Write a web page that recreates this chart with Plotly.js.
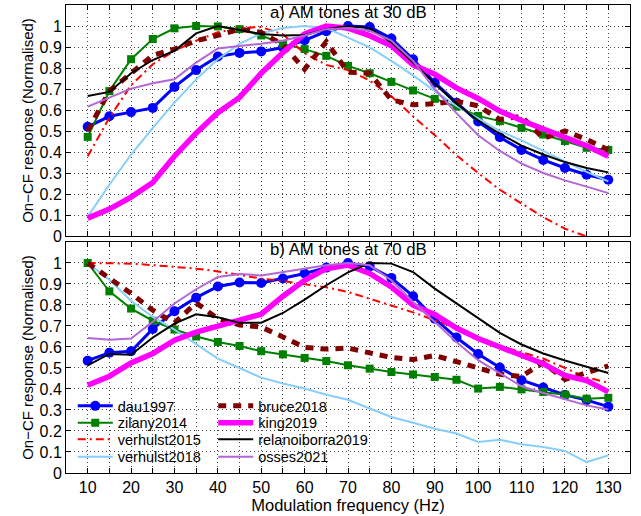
<!DOCTYPE html>
<html><head><meta charset="utf-8">
<script src="https://cdn.plot.ly/plotly-3.0.1.min.js"></script>
<style>html,body{margin:0;padding:0;background:#fff;}#chart{width:641px;height:516px;}</style>
</head><body><div id="chart"></div>
<script>
// Modulation frequencies (Hz)
const freq = [10,15,20,25,30,35,40,45,50,55,60,65,70,75,80,85,90,95,100,105,110,115,120,125,130];
const xTickVals = [10,15,20,25,30,35,40,45,50,55,60,65,70,75,80,85,90,95,100,105,110,115,120,125,130];
const xTickText = ['10','','20','','30','','40','','50','','60','','70','','80','','90','','100','','110','','120','','130'];
const yTickVals = [0,0.1,0.2,0.3,0.4,0.5,0.6,0.7,0.8,0.9,1];
const yTickText = ['0','0.1','0.2','0.3','0.4','0.5','0.6','0.7','0.8','0.9','1'];
const modelNames = ['dau1997','zilany2014','verhulst2015','verhulst2018','bruce2018','king2019','relanoiborra2019','osses2021'];

// a) AM tones at 30 dB
const dau_30 = [0.52,0.57,0.59,0.61,0.71,0.79,0.855,0.872,0.879,0.898,0.932,0.975,1.0,0.995,0.94,0.842,0.73,0.635,0.545,0.47,0.41,0.362,0.324,0.292,0.268];
const zilany_30 = [0.472,0.69,0.842,0.938,0.989,1.0,0.998,0.985,0.955,0.915,0.89,0.858,0.81,0.775,0.734,0.693,0.653,0.616,0.572,0.547,0.515,0.483,0.452,0.42,0.41];
const verhulst2015_30 = [0.38,0.563,0.718,0.818,0.882,0.93,0.97,0.99,0.995,0.96,0.87,0.815,0.79,0.74,0.665,0.57,0.48,0.385,0.30,0.22,0.155,0.09,0.035,-0.005,-0.04];
const verhulst2018_30 = [0.092,0.244,0.388,0.515,0.635,0.746,0.842,0.915,0.965,0.99,1.0,0.99,0.945,0.898,0.834,0.765,0.69,0.62,0.56,0.5,0.455,0.405,0.355,0.305,0.26];
const bruce_30 = [0.5,0.69,0.775,0.86,0.89,0.93,0.955,0.985,0.97,0.91,0.794,0.925,0.78,0.775,0.648,0.625,0.63,0.642,0.62,0.555,0.57,0.465,0.5,0.46,0.41];
const king_30 = [0.085,0.128,0.185,0.255,0.38,0.49,0.587,0.66,0.775,0.874,0.962,1.0,0.99,0.954,0.906,0.815,0.77,0.705,0.655,0.595,0.55,0.51,0.47,0.43,0.38];
const relano_30 = [0.667,0.686,0.775,0.838,0.882,0.965,1.0,0.98,0.962,0.955,0.957,0.985,1.0,0.99,0.922,0.826,0.725,0.63,0.55,0.487,0.43,0.388,0.352,0.324,0.303];
const osses_30 = [0.616,0.659,0.702,0.727,0.746,0.826,0.893,0.905,0.915,0.93,0.955,0.985,0.99,0.977,0.93,0.834,0.70,0.585,0.48,0.405,0.345,0.3,0.265,0.235,0.204];

// b) AM tones at 70 dB
const dau_70 = [0.535,0.573,0.58,0.686,0.77,0.835,0.888,0.907,0.905,0.926,0.95,0.978,1.0,0.984,0.929,0.842,0.735,0.645,0.567,0.502,0.442,0.407,0.372,0.347,0.316];
const zilany_70 = [1.0,0.865,0.783,0.725,0.683,0.65,0.624,0.605,0.58,0.565,0.548,0.533,0.513,0.497,0.481,0.469,0.457,0.444,0.402,0.41,0.398,0.386,0.373,0.354,0.358];
const verhulst2015_70 = [1.0,1.0,0.997,0.99,0.983,0.973,0.96,0.943,0.926,0.914,0.9,0.884,0.862,0.83,0.797,0.765,0.727,0.692,0.645,0.605,0.575,0.545,0.5,0.455,0.43];
const verhulst2018_70 = [1.0,0.92,0.82,0.743,0.683,0.616,0.545,0.5,0.454,0.426,0.402,0.373,0.349,0.307,0.267,0.239,0.211,0.188,0.148,0.158,0.137,0.124,0.105,0.052,0.084];
const bruce_70 = [1.0,0.93,0.855,0.775,0.715,0.81,0.735,0.705,0.695,0.648,0.598,0.59,0.595,0.572,0.55,0.54,0.56,0.53,0.50,0.47,0.46,0.525,0.445,0.475,0.51];
const king_70 = [0.418,0.461,0.524,0.569,0.632,0.671,0.699,0.727,0.756,0.842,0.918,0.973,0.99,0.95,0.886,0.799,0.755,0.69,0.64,0.6,0.56,0.52,0.465,0.44,0.386];
const relano_70 = [0.513,0.567,0.563,0.645,0.711,0.756,0.742,0.715,0.716,0.762,0.826,0.894,0.955,1.0,0.997,0.957,0.878,0.807,0.735,0.667,0.612,0.569,0.536,0.505,0.476];
const osses_70 = [0.643,0.635,0.64,0.72,0.807,0.875,0.933,0.948,0.941,0.957,0.973,0.989,1.0,0.989,0.918,0.814,0.719,0.624,0.537,0.473,0.413,0.381,0.35,0.322,0.302];

const data30 = [dau_30, zilany_30, verhulst2015_30, verhulst2018_30, bruce_30, king_30, relano_30, osses_30];
const data70 = [dau_70, zilany_70, verhulst2015_70, verhulst2018_70, bruce_70, king_70, relano_70, osses_70];

const styles = [
  {line:{color:'#0000ff', width:3}, mode:'lines+markers', marker:{symbol:'circle', size:10, color:'#0000ff'}},
  {line:{color:'#008000', width:2}, mode:'lines+markers', marker:{symbol:'square', size:8, color:'#008000'}},
  {line:{color:'#ff0000', width:2, dash:'8px,4px,2px,4px'}, mode:'lines'},
  {line:{color:'#87cefa', width:2}, mode:'lines'},
  {line:{color:'#800000', width:5, dash:'8px,7px'}, mode:'lines'},
  {line:{color:'#ff00ff', width:5.5}, mode:'lines'},
  {line:{color:'#000000', width:2}, mode:'lines'},
  {line:{color:'#b366d6', width:2}, mode:'lines'}
];

const FONT = 'Liberation Sans, Arial, Helvetica, sans-serif';
const legendIds = ['legend','legend2','legend3','legend4','legend5','legend6','legend7','legend8'];

const traces = [];
modelNames.forEach((name, i) => {
  traces.push(Object.assign({
    type:'scatter', x:freq, y:data30[i], name:name, xaxis:'x2', yaxis:'y2', showlegend:false, hoverinfo:'skip'
  }, styles[i]));
});
modelNames.forEach((name, i) => {
  traces.push(Object.assign({
    type:'scatter', x:freq, y:data70[i], name:name, xaxis:'x', yaxis:'y', showlegend:true,
    legend: legendIds[i], hoverinfo:'skip'
  }, styles[i]));
});

const gridStyle = {showgrid:true, gridcolor:'#444', gridwidth:1, griddash:'1px,3px', zeroline:false,
  showline:true, linecolor:'#000', linewidth:1, mirror:'ticks', ticks:'inside', ticklen:5, tickcolor:'#000', tickwidth:1};

const xBase = Object.assign({}, gridStyle, {range:[5,135], tickmode:'array', tickvals:xTickVals, ticktext:xTickText,
  tickfont:{family:FONT, size:16, color:'#000'}});
const yBase = Object.assign({}, gridStyle, {range:[0,1.1], tickmode:'array', tickvals:yTickVals, ticktext:yTickText,
  tickfont:{family:FONT, size:16, color:'#000'}});

const layout = {
  width:641, height:516,
  margin:{l:66, r:11, t:5, b:43},
  paper_bgcolor:'#fff', plot_bgcolor:'#fff',
  font:{family:FONT, size:14, color:'#000'},
  xaxis: Object.assign({}, xBase, {anchor:'y', domain:[0,1],
    title:{text:'Modulation frequency (Hz)', font:{family:FONT, size:16.5, color:'#000'}, standoff:3}}),
  yaxis: Object.assign({}, yBase, {anchor:'x', domain:[0,0.4936],
    title:{text:'On\u2212CF response (Normalised)', font:{family:FONT, size:15, color:'#000'}, standoff:2}}),
  xaxis2: Object.assign({}, xBase, {anchor:'y2', domain:[0,1], matches:'x', showticklabels:false}),
  yaxis2: Object.assign({}, yBase, {anchor:'x2', domain:[0.5064,1],
    title:{text:'On\u2212CF response (Normalised)', font:{family:FONT, size:15, color:'#000'}, standoff:2}}),
  annotations:[
    {xref:'x2', yref:'y2', x:70, y:1.062, text:'a) AM tones at 30 dB', showarrow:false,
      font:{family:FONT, size:16.8, color:'#000'}, xanchor:'center', yanchor:'middle'},
    {xref:'x', yref:'y', x:70, y:1.062, text:'b) AM tones at 70 dB', showarrow:false,
      font:{family:FONT, size:16.8, color:'#000'}, xanchor:'center', yanchor:'middle'}
  ]
};

// legend placement: two columns of four rows, inside the lower panel
const legendCols = [0.012, 0.261];
const legendRows = [0.1775, 0.1412, 0.1064, 0.0686];
legendIds.forEach((id, i) => {
  layout[id] = {x: legendCols[Math.floor(i / 4)], y: legendRows[i % 4], xanchor:'left', yanchor:'top',
    bgcolor:'rgba(0,0,0,0)', borderwidth:0, font:{family:FONT, size:14.5, color:'#000'},
    tracegroupgap:0, itemwidth:35};
});

Plotly.newPlot('chart', traces, layout, {displayModeBar:false, staticPlot:true});
</script></body></html>
